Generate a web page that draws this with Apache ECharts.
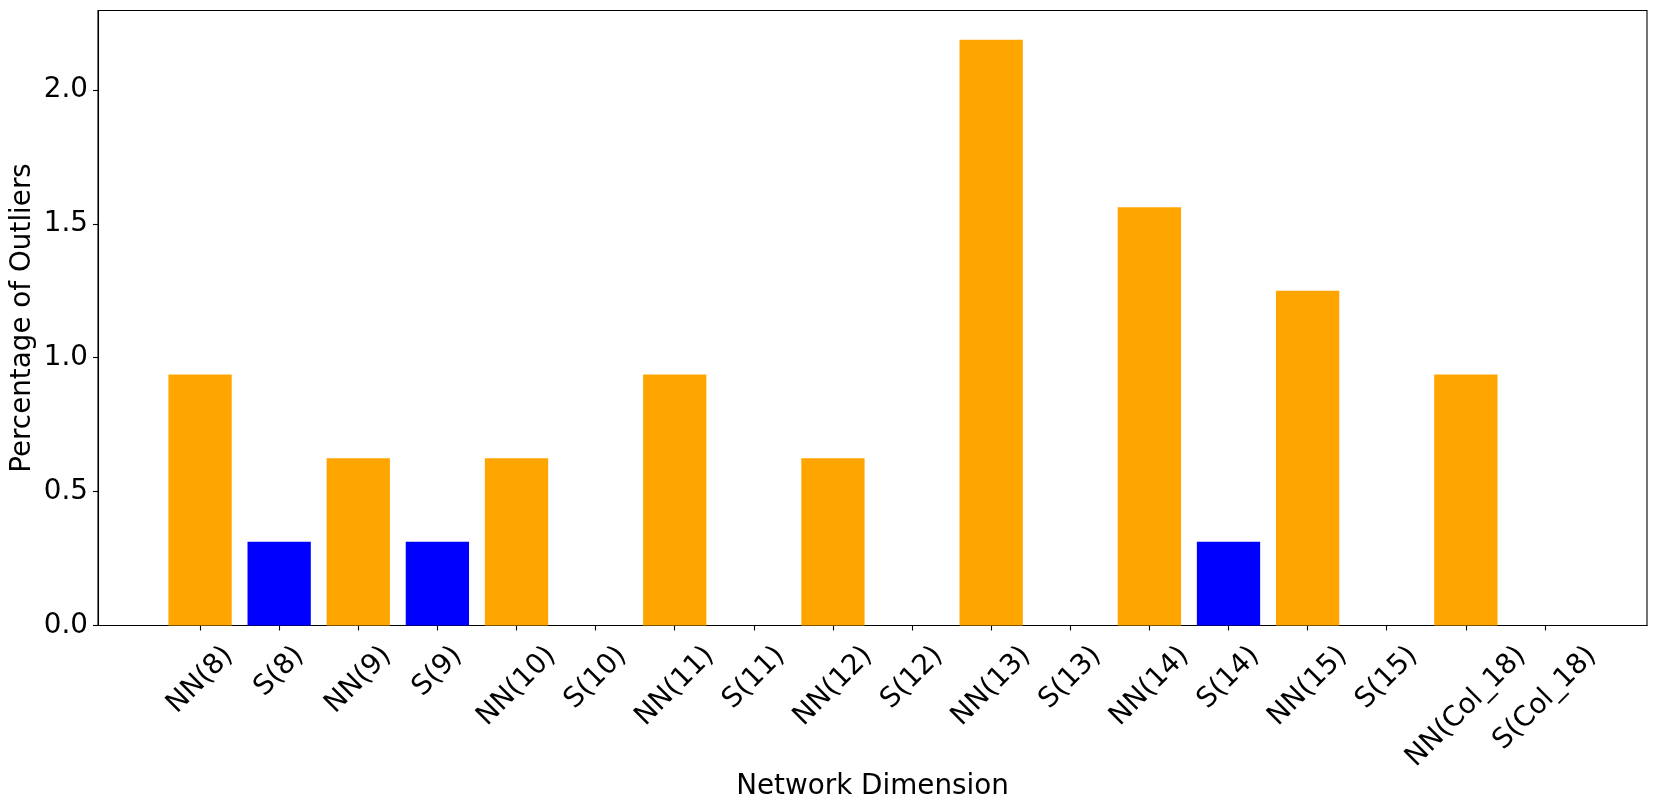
<!DOCTYPE html>
<html>
<head>
<meta charset="utf-8">
<script src="https://cdn.jsdelivr.net/npm/echarts@6/dist/echarts.min.js"></script>
<style>
  html, body { margin: 0; padding: 0; background: #fff; }
  #chart { width: 1657px; height: 810px; }
</style>
</head>
<body>
<div id="chart"></div>
<script>
// network dimension categories
const categories = ['NN(8)', 'S(8)', 'NN(9)', 'S(9)', 'NN(10)', 'S(10)', 'NN(11)', 'S(11)', 'NN(12)', 'S(12)',
  'NN(13)', 'S(13)', 'NN(14)', 'S(14)', 'NN(15)', 'S(15)', 'NN(Col_18)', 'S(Col_18)']
// percentage of outliers per category
const outliers = [0.9375, 0.3125, 0.625, 0.3125, 0.625, 0, 0.9375, 0, 0.625, 0,
  2.1875, 0, 1.5625, 0.3125, 1.25, 0, 0.9375, 0]
// y tick labels
const yTicks = [0, 0.5, 1.0, 1.5, 2.0]

const FONT = 'DejaVu Sans'
const FS = 27.8

// matplotlib-like limits (bar width 0.8, 5% margins)
const xMin = -0.4 - 0.05 * (categories.length - 0.2)
const xMax = categories.length - 0.6 + 0.05 * (categories.length - 0.2)
const yMax = Math.max(...outliers) * 1.05

// rotated labels: centre each label's box under its tick (like matplotlib)
const ctx = document.createElement('canvas').getContext('2d')
ctx.font = FS + 'px "' + FONT + '"'
const shift = categories.map(c => 0.5 * ctx.measureText(c).width - 13.7)
const C = Math.max(...shift) + 2
const rich = {}
categories.forEach((c, i) => {
  const T = (C + shift[i]) / 2
  const R = (C - shift[i]) / 2
  rich['l' + i] = { fontFamily: FONT, fontSize: FS, color: '#000', padding: [T, R, 0, 0] }
})

const chart = echarts.init(document.getElementById('chart'))
chart.setOption({
  animation: false,
  grid: {
    left: 98, right: 10, top: 10.5, bottom: 184.5,
    show: true, borderColor: '#000', borderWidth: 1.1,
    outerBoundsMode: 'none'
  },
  xAxis: {
    type: 'value',
    min: xMin,
    max: xMax,
    name: 'Network Dimension',
    nameLocation: 'middle',
    nameGap: 147,
    nameMoveOverlap: false,
    nameTextStyle: { fontFamily: FONT, fontSize: FS, color: '#000' },
    axisLine: { show: true, onZero: false, lineStyle: { color: '#000', width: 1.1 } },
    axisTick: { show: true, length: 5, lineStyle: { color: '#000', width: 1.1 }, customValues: categories.map((c, i) => i) },
    axisLabel: {
      customValues: categories.map((c, i) => i),
      showMinLabel: true,
      showMaxLabel: true,
      hideOverlap: false,
      rotate: 45,
      align: 'right',
      verticalAlign: 'top',
      margin: 26 - 0.7071 * (C + FS / 2),
      formatter: v => '{l' + Math.round(v) + '|' + categories[Math.round(v)] + '}',
      rich: rich
    },
    splitLine: { show: false }
  },
  yAxis: {
    type: 'value',
    min: 0,
    max: yMax,
    name: 'Percentage of Outliers',
    nameLocation: 'middle',
    nameGap: 61,
    nameMoveOverlap: false,
    nameTextStyle: { fontFamily: FONT, fontSize: FS, color: '#000' },
    axisLine: { show: true, onZero: false, lineStyle: { color: '#000', width: 1.1 } },
    axisTick: { show: true, length: 5, lineStyle: { color: '#000', width: 1.1 }, customValues: yTicks },
    axisLabel: {
      customValues: yTicks,
      showMinLabel: true,
      showMaxLabel: true,
      margin: 10,
      fontFamily: FONT,
      fontSize: FS,
      color: '#000',
      formatter: v => v.toFixed(1)
    },
    splitLine: { show: false }
  },
  series: [{
    type: 'bar',
    barWidth: '80%',
    data: outliers.map((v, i) => [i, v]),
    itemStyle: {
      color: p => categories[p.dataIndex].startsWith('NN') ? '#FFA500' : '#0000FF'
    }
  }]
})
</script>
</body>
</html>
